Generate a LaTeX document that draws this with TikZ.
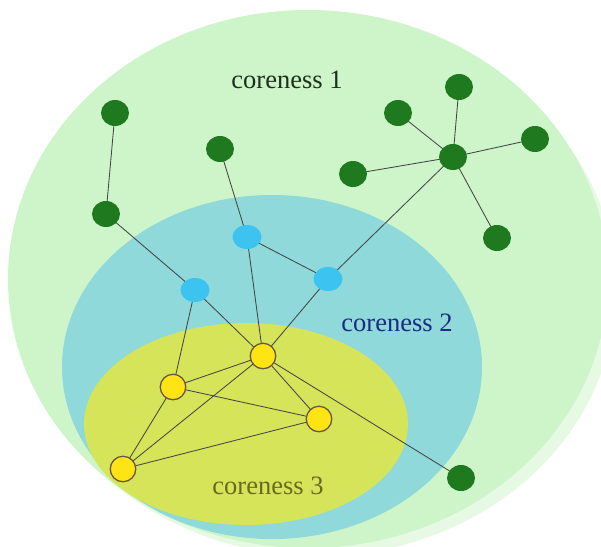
\documentclass[tikz,border=0pt]{standalone}
\usepackage{fontspec}
\setmainfont{Liberation Serif}
\usetikzlibrary{shapes.geometric}
\pgfdeclarelayer{bg}
\pgfdeclarelayer{edges}
\pgfsetlayers{bg,edges,main}
\definecolor{haloC}{HTML}{E6FAE3}
\definecolor{outerC}{HTML}{CDF5C9}
\definecolor{midC}{HTML}{8FD9DA}
\definecolor{innerC}{HTML}{D6E45A}
\definecolor{gnode}{HTML}{1F7A1F}
\definecolor{bnode}{HTML}{3CC3F0}
\definecolor{ynode}{HTML}{FFE414}
\definecolor{yedge}{HTML}{6A5545}
\definecolor{edgeC}{HTML}{454545}
\definecolor{t1}{HTML}{1C301C}
\definecolor{t2}{HTML}{1B2C80}
\definecolor{t3}{HTML}{6A6A1C}
\begin{document}
\begin{tikzpicture}[x=1pt,y=-1pt,
  gn/.style={ellipse,fill=gnode,minimum width=28pt,minimum height=26pt,inner sep=0pt},
  bn/.style={ellipse,fill=bnode,minimum width=29pt,minimum height=24pt,inner sep=0pt},
  yn/.style={circle,fill=ynode,draw=yedge,line width=1.3pt,minimum size=25.5pt,inner sep=0pt},
  lnk/.style={draw=edgeC,line width=0.85pt},
  lab/.style={font=\fontsize{26.5}{30}\selectfont}]
\useasboundingbox (0,0) rectangle (601,546);
\begin{pgfonlayer}{bg}
\fill[white] (0,0) rectangle (601,546);
\fill[haloC] (318,290) ellipse [x radius=298, y radius=266];
\fill[outerC] (308,279) ellipse [x radius=300, y radius=269];
\fill[midC] (272,367) ellipse [x radius=210, y radius=172];
\fill[innerC] (246,424) ellipse [x radius=162, y radius=101];
\end{pgfonlayer}

\node[lab,text=t1] (l1) at (287,80) {coreness 1};
\node[lab,text=t2] (l2) at (397,323) {coreness 2};
\node[lab,text=t3] (l3) at (268,486) {coreness 3};

% nodes
\node[gn] (g1) at (115,113) {};
\node[gn] (g2) at (106,214) {};
\node[gn] (g3) at (220,149) {};
\node[gn] (hub) at (453,157) {};
\node[gn] (g5) at (398,113) {};
\node[gn] (g6) at (459,87) {};
\node[gn] (g7) at (535,139) {};
\node[gn] (g8) at (353,174) {};
\node[gn] (g9) at (497,238) {};
\node[gn] (g10) at (461,478) {};
\node[bn] (b1) at (247,237) {};
\node[bn] (b2) at (195,290) {};
\node[bn] (b3) at (328,279) {};
\node[yn] (y1) at (263,356) {};
\node[yn] (y2) at (173,387) {};
\node[yn] (y3) at (319,419) {};
\node[yn] (y4) at (123,469) {};

\begin{pgfonlayer}{edges}
\foreach \a/\b in {g1/g2,g2/b2,g3/b1,b1/b3,b1/y1,b2/y1,b2/y2,b3/y1,b3/hub,hub/g5,hub/g6,hub/g7,hub/g8,hub/g9,y1/y2,y1/y3,y1/y4,y1/g10,y2/y3,y2/y4,y3/y4}
  \draw[lnk] (\a.center) -- (\b.center);
\end{pgfonlayer}
\end{tikzpicture}
\end{document}
